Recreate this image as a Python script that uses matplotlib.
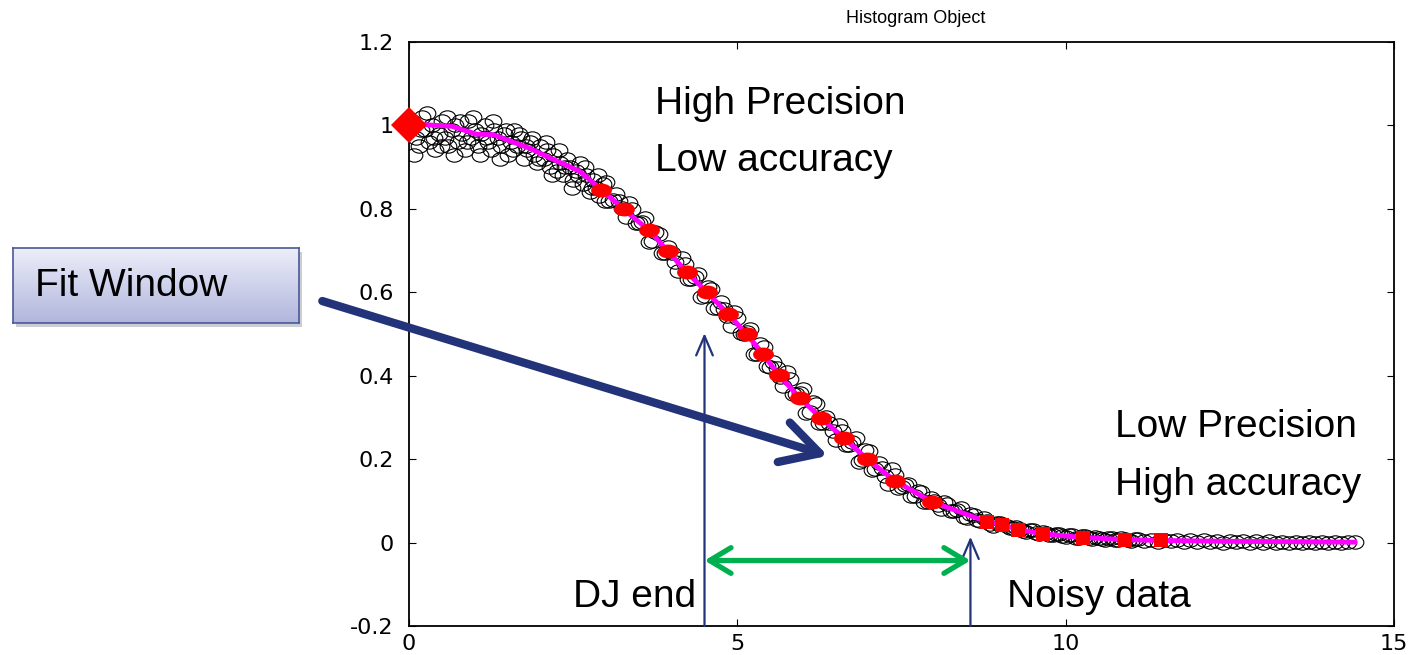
import numpy as np
import matplotlib
matplotlib.use("Agg")
import matplotlib.pyplot as plt
from matplotlib.path import Path
from matplotlib.transforms import Affine2D
from matplotlib.colors import LinearSegmentedColormap

# noisy histogram samples (black open circles)
scatter_x = [
    0.05, 0.10, 0.15, 0.20, 0.25, 0.30, 0.35, 0.40, 0.45, 0.50, 0.55, 0.60, 0.65, 0.70, 0.75,
    0.80, 0.85, 0.90, 0.95, 1.00, 1.05, 1.10, 1.15, 1.20, 1.25, 1.30, 1.35, 1.40, 1.45, 1.50,
    1.55, 1.60, 1.65, 1.70, 1.75, 1.80, 1.85, 1.90, 1.95, 2.00, 2.05, 2.10, 2.15, 2.20, 2.25,
    2.30, 2.35, 2.40, 2.45, 2.50, 2.55, 2.60, 2.65, 2.70, 2.75, 2.80, 2.85, 2.90, 2.95,
    0.08, 0.18, 0.28, 0.38, 0.48, 0.58, 0.68, 0.78, 0.88, 0.98, 1.08, 1.18, 1.28, 1.38, 1.48,
    1.58, 1.68, 1.78, 1.88, 1.98, 2.08, 2.18, 2.28, 2.38, 2.48, 2.58, 2.68, 2.78, 2.88, 2.98,
    3.0, 3.1, 3.2, 3.3, 3.4, 3.5, 3.6, 3.7, 3.8, 3.9, 4.0, 4.1, 4.2, 4.3, 4.4, 4.5, 4.6, 4.7,
    4.8, 4.9, 5.0, 5.1, 5.2, 5.3, 5.4, 5.5, 5.6, 5.7, 5.8, 5.9, 6.0, 6.1, 6.2, 6.3, 6.4, 6.5,
    6.6, 6.7, 6.8, 6.9, 7.0, 7.1, 7.2, 7.3, 7.4, 7.5, 7.6, 7.7, 7.8, 7.9, 8.0, 8.1, 8.2, 8.3,
    8.4, 8.5, 8.6, 8.7, 8.8, 8.9, 9.0,
    3.05, 3.15, 3.25, 3.35, 3.45, 3.55, 3.65, 3.75, 3.85, 3.95, 4.05, 4.15, 4.25, 4.35, 4.45,
    4.55, 4.65, 4.75, 4.85, 4.95, 5.05, 5.15, 5.25, 5.35, 5.45, 5.55, 5.65, 5.75, 5.85, 5.95,
    6.05, 6.15, 6.25, 6.35, 6.45, 6.55, 6.65, 6.75, 6.85, 6.95, 7.05, 7.15, 7.25, 7.35, 7.45,
    7.55, 7.65, 7.75, 7.85, 7.95, 8.05, 8.15, 8.25, 8.35, 8.45, 8.55, 8.65, 8.75, 8.85, 8.95,
    9.1, 9.2, 9.3, 9.4, 9.5, 9.6, 9.7, 9.8, 9.9, 10.0, 10.1, 10.2, 10.3, 10.4, 10.5, 10.6, 10.7,
    10.8, 10.9, 11.0, 11.1, 11.2, 11.3, 11.4, 11.5, 11.6, 11.7, 11.8, 11.9, 12.0, 12.1, 12.2,
    12.3, 12.4, 12.5, 12.6, 12.7, 12.8, 12.9, 13.0, 13.1, 13.2, 13.3, 13.4, 13.5, 13.6, 13.7,
    13.8, 13.9, 14.0, 14.1, 14.2, 14.3, 14.4,
    9.15, 9.25, 9.35, 9.45, 9.55, 9.65, 9.75, 9.85, 9.95, 10.05, 10.15, 10.25, 10.35, 10.45,
    10.55, 10.65, 10.75, 10.85, 10.95, 11.05,
]
scatter_y = [
    1.01, 0.97, 0.95, 1.02, 0.99, 0.96, 1.00, 0.94, 0.98, 1.01, 0.97, 0.95, 0.99, 1.00, 0.96,
    0.98, 0.94, 1.01, 0.97, 0.99, 0.95, 0.98, 1.00, 0.96, 0.94, 0.99, 0.97, 0.95, 0.98, 0.93,
    0.96, 0.99, 0.95, 0.97, 0.92, 0.94, 0.96, 0.93, 0.91, 0.95, 0.92, 0.94, 0.90, 0.93, 0.89,
    0.91, 0.88, 0.92, 0.90, 0.87, 0.89, 0.91, 0.86, 0.88, 0.84, 0.87, 0.85, 0.83, 0.86,
    0.93, 0.99, 1.03, 0.97, 0.95, 1.02, 0.93, 1.01, 0.96, 1.02, 0.93, 0.97, 1.01, 0.92, 0.99,
    0.94, 0.98, 0.95, 0.97, 0.92, 0.96, 0.88, 0.94, 0.90, 0.85, 0.88, 0.90, 0.85, 0.88, 0.82,
    0.865, 0.822, 0.820, 0.780, 0.800, 0.765, 0.778, 0.722, 0.740, 0.695, 0.693, 0.650, 0.668,
    0.631, 0.645, 0.590, 0.608, 0.562, 0.561, 0.520, 0.538, 0.500, 0.512, 0.453, 0.470, 0.422,
    0.418, 0.375, 0.392, 0.355, 0.368, 0.313, 0.332, 0.287, 0.287, 0.247, 0.268, 0.234, 0.250,
    0.197, 0.219, 0.176, 0.178, 0.140, 0.163, 0.133, 0.140, 0.111, 0.121, 0.098, 0.100, 0.080,
    0.092, 0.075, 0.084, 0.059, 0.067, 0.051, 0.052, 0.039, 0.047,
    0.820, 0.835, 0.801, 0.814, 0.765, 0.769, 0.721, 0.744, 0.694, 0.708, 0.673, 0.683, 0.632,
    0.636, 0.588, 0.612, 0.562, 0.576, 0.542, 0.553, 0.502, 0.504, 0.453, 0.475, 0.423, 0.434,
    0.398, 0.408, 0.356, 0.359, 0.311, 0.336, 0.286, 0.301, 0.268, 0.282, 0.234, 0.240, 0.194,
    0.221, 0.174, 0.191, 0.160, 0.176, 0.131, 0.137, 0.111, 0.123, 0.098, 0.106, 0.090, 0.098,
    0.075, 0.079, 0.061, 0.069, 0.055, 0.060, 0.044, 0.047,
    0.040, 0.034, 0.033, 0.026, 0.029, 0.021, 0.024, 0.018, 0.020, 0.014, 0.017, 0.011, 0.015,
    0.009, 0.012, 0.007, 0.011, 0.006, 0.009, 0.004, 0.008, 0.004, 0.007, 0.002, 0.006, 0.003,
    0.006, 0.001, 0.005, 0.002, 0.005, 0.001, 0.004, 0.000, 0.004, 0.001, 0.003, -0.001, 0.003,
    0.000, 0.003, -0.001, 0.002, 0.000, 0.002, -0.001, 0.002, 0.000, 0.001, 0.000, 0.001, 0.000,
    0.001, 0.001,
    0.036, 0.037, 0.028, 0.030, 0.023, 0.025, 0.018, 0.021, 0.015, 0.018, 0.012, 0.015, 0.010,
    0.013, 0.008, 0.011, 0.006, 0.010, 0.005, 0.008,
]

# fitted curve (magenta)
fit_x = [0.0, 0.21, 0.65, 1.03, 1.28, 1.84, 2.19, 2.6, 2.93, 3.27, 3.65, 3.94, 4.23, 4.54,
         4.86, 5.14, 5.39, 5.63, 5.95, 6.27, 6.62, 6.97, 7.40, 7.96, 8.80, 9.03, 9.28, 9.65,
         10.27, 10.90, 11.45, 12.5, 13.5, 14.4]
fit_y = [1.0, 1.002, 0.998, 0.979, 0.978, 0.945, 0.919, 0.89, 0.846, 0.799, 0.749, 0.699,
         0.648, 0.600, 0.548, 0.500, 0.452, 0.402, 0.347, 0.299, 0.251, 0.201, 0.148, 0.098,
         0.050, 0.043, 0.031, 0.021, 0.012, 0.007, 0.005, 0.003, 0.002, 0.001]

# red markers
start_x, start_y = [0.0], [1.0]
dot_x = [2.93, 3.27, 3.65, 3.94, 4.23, 4.54, 4.86, 5.14, 5.39, 5.63, 5.95, 6.27, 6.62,
         6.97, 7.40, 7.96]
dot_y = [0.846, 0.799, 0.749, 0.699, 0.648, 0.600, 0.548, 0.500, 0.452, 0.402, 0.347,
         0.299, 0.251, 0.201, 0.148, 0.098]
sq_x = [8.80, 9.03, 9.28, 9.65, 10.27, 10.90, 11.45]
sq_y = [0.050, 0.043, 0.031, 0.021, 0.012, 0.007, 0.005]

dj_end = 4.5
noisy_start = 8.55

W, H = 1411, 655
fig = plt.figure(figsize=(W / 100, H / 100), dpi=100)
ax = fig.add_axes([409 / W, 1 - 626 / H, (1394 - 409) / W, (626 - 42) / H])

txt_font = ['Liberation Sans', 'DejaVu Sans']

ell_blk = Path.unit_circle().transformed(Affine2D().scale(1.25, 1.0))
ell_red = Path.unit_circle().transformed(Affine2D().scale(1.5, 1.0))

ax.plot(scatter_x, scatter_y, linestyle='none', marker=ell_blk, markersize=12,
        markerfacecolor='none', markeredgecolor='black', markeredgewidth=0.8, zorder=2)
ax.plot(fit_x, fit_y, color='#ff00ff', lw=3.5, zorder=3)
ax.plot(dot_x, dot_y, linestyle='none', marker=ell_red, markersize=15, color='red',
        markeredgewidth=0, zorder=4)
ax.plot(sq_x, sq_y, linestyle='none', marker='s', markersize=10, color='red',
        markeredgewidth=0, zorder=4)
ax.plot(start_x, start_y, linestyle='none', marker='D', markersize=18, color='red',
        markeredgewidth=0, zorder=5, clip_on=False)

ax.set_xlim(0, 15)
ax.set_ylim(-0.2, 1.2)
ax.set_xticks([0, 5, 10, 15])
ax.set_yticks([-0.2, 0, 0.2, 0.4, 0.6, 0.8, 1.0, 1.2])
ax.set_yticklabels(['-0.2', '0', '0.2', '0.4', '0.6', '0.8', '1', '1.2'])
ax.tick_params(direction='in', length=5, width=0.8, top=True, right=True, labelsize=16)
ax.tick_params(axis='y', pad=11)
ax.tick_params(axis='x', pad=6)
for s in ax.spines.values():
    s.set_linewidth(1.3)
ax.set_title('Histogram Object', fontsize=13, family=txt_font, pad=14, x=0.514)

# text annotations
ax.text(3.74, 0.983, 'High Precision\nLow accuracy', fontsize=28, family=txt_font,
        va='center', ha='left', linespacing=1.78)
ax.text(10.75, 0.208, 'Low Precision\nHigh accuracy', fontsize=28, family=txt_font,
        va='center', ha='left', linespacing=1.78)
ax.text(4.38, -0.13, 'DJ end', fontsize=28, family=txt_font, va='center', ha='right')
ax.text(9.1, -0.13, 'Noisy data', fontsize=28, family=txt_font, va='center', ha='left')

navy = '#22337a'
ax.annotate('', xy=(dj_end, 0.502), xytext=(dj_end, -0.2),
            arrowprops=dict(arrowstyle='->,head_length=0.7,head_width=0.3', color=navy,
                            lw=1.6, mutation_scale=20, shrinkA=0, shrinkB=0))
ax.annotate('', xy=(noisy_start, 0.014), xytext=(noisy_start, -0.2),
            arrowprops=dict(arrowstyle='->,head_length=0.7,head_width=0.3', color=navy,
                            lw=1.6, mutation_scale=20, shrinkA=0, shrinkB=0))
ax.annotate('', xy=(noisy_start, -0.043), xytext=(dj_end, -0.043),
            arrowprops=dict(arrowstyle='<->,head_length=0.55,head_width=0.33', color='#00b050',
                            lw=3.8, mutation_scale=28, shrinkA=0, shrinkB=0,
                            capstyle='round', joinstyle='round'))
ax.annotate('', xy=(6.38, 0.208), xytext=(-1.32, 0.579), annotation_clip=False,
            arrowprops=dict(arrowstyle='->,head_length=0.6,head_width=0.33', color=navy,
                            lw=6, mutation_scale=45, shrinkA=0, shrinkB=0,
                            capstyle='round', joinstyle='round'))

# "Fit Window" box with shadow and gradient fill
bx, by, bw, bh = 13, 248, 286, 75
shadow = fig.add_axes([(bx + 3) / W, 1 - (by + bh + 4) / H, bw / W, bh / H])
shadow.set_facecolor('#9a9aa8')
shadow.patch.set_alpha(0.5)
shadow.set_xticks([]); shadow.set_yticks([])
for s in shadow.spines.values():
    s.set_visible(False)
box = fig.add_axes([bx / W, 1 - (by + bh) / H, bw / W, bh / H])
grad = LinearSegmentedColormap.from_list('box', ['#b1b6dd', '#eceef9'])
box.imshow(np.linspace(0, 1, 100).reshape(-1, 1)[::-1], cmap=grad, aspect='auto',
           extent=[0, 1, 0, 1])
box.set_xlim(0, 1); box.set_ylim(0, 1)
box.set_xticks([]); box.set_yticks([])
for s in box.spines.values():
    s.set_color('#4a5899')
    s.set_linewidth(1.2)
box.text(22 / bw, 0.5, 'Fit Window', fontsize=28, family=txt_font, va='center', ha='left')

fig.savefig('out.png', dpi=100)
